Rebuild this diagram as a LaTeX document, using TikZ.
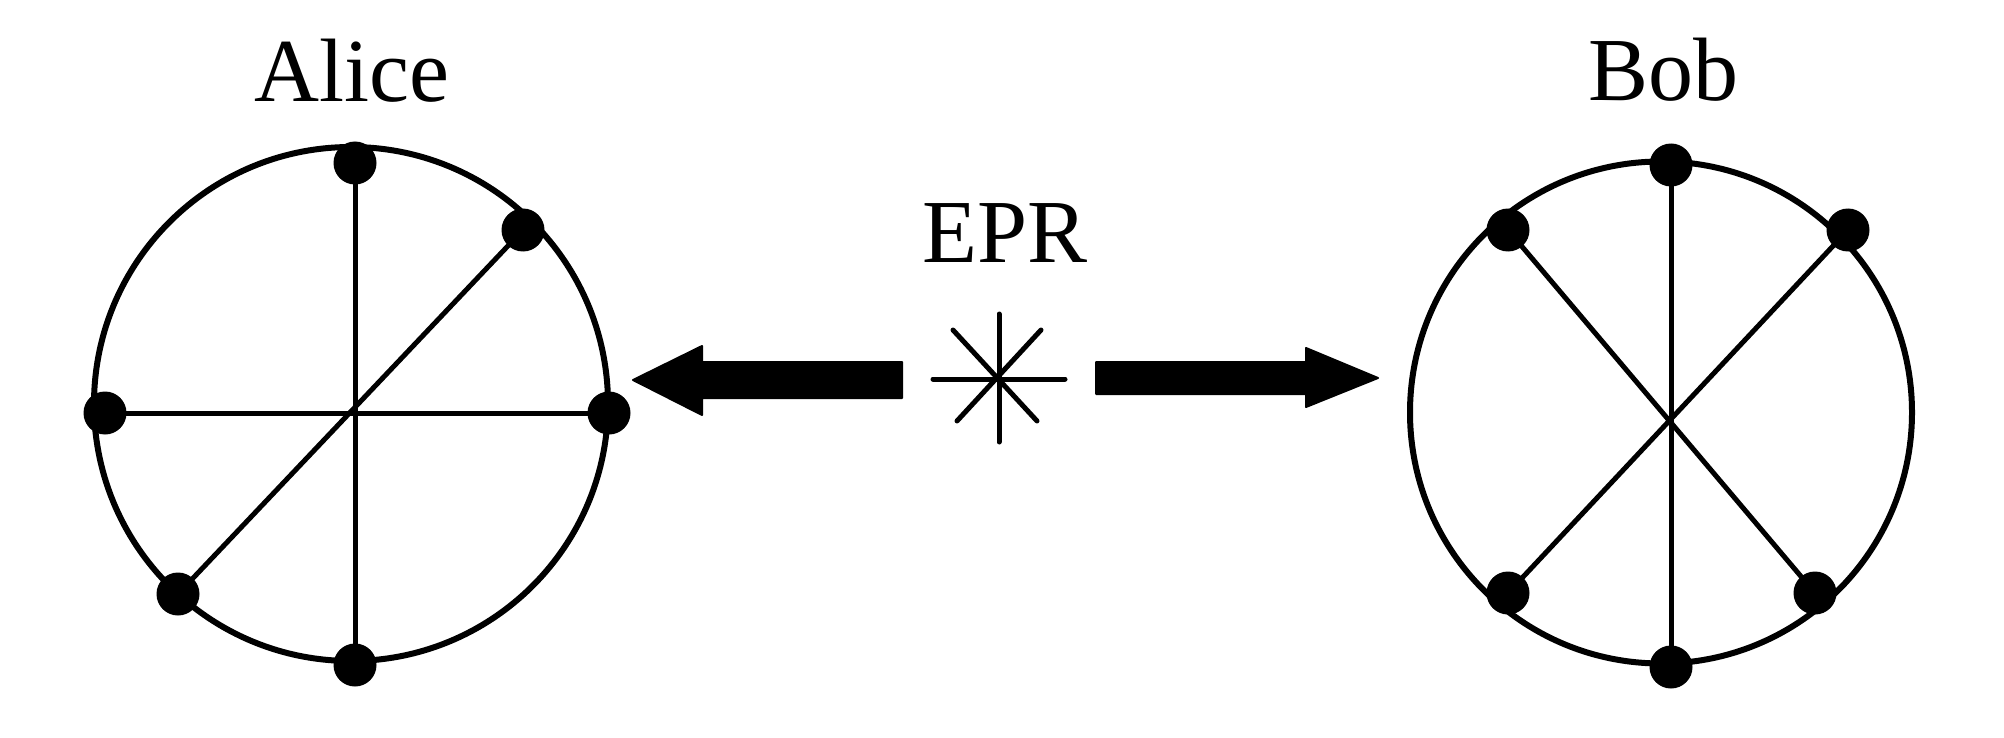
\documentclass[tikz,border=0pt]{standalone}
\usepackage{fontspec}
\setmainfont{Liberation Serif}
\begin{document}
\begin{tikzpicture}[x=0.5pt,y=-0.5pt,
  ring/.style={draw, circle, line width=3pt, inner sep=0pt},
  dot/.style={circle, fill=black, inner sep=0pt, minimum size=21.5pt},
  spoke/.style={line width=2.5pt},
  ray/.style={line width=2.5pt, line cap=round},
  blockarrow/.style={fill=black, draw=black, line width=1pt, line join=round},
  namelabel/.style={font=\fontsize{45}{54}\selectfont, inner sep=0pt, anchor=base}]
\path[use as bounding box] (0,0) rectangle (2004,738);

% titles
\node[namelabel] (alice) at (352,102) {Alice};
\node[namelabel] (bob) at (1663,101) {Bob};
\node[namelabel] (epr) at (1005,263) {EPR};

% Alice
\node[ring, minimum size=257pt] (aring) at (351,404) {};
\node[dot] (at) at (355,163) {};
\node[dot] (ab) at (355,665) {};
\node[dot] (al) at (105,413) {};
\node[dot] (ar) at (609,413) {};
\node[dot] (aur) at (523,230) {};
\node[dot] (all) at (178,594) {};
\draw[spoke] (at.center) -- (ab.center);
\draw[spoke] (al.center) -- (ar.center);
\draw[spoke] (aur.center) -- (all.center);

% Bob
\node[ring, minimum size=251pt] (bring) at (1661,412.5) {};
\node[dot] (bt) at (1671,165) {};
\node[dot] (bb) at (1671,667) {};
\node[dot] (bul) at (1508,230) {};
\node[dot] (bur) at (1848,230) {};
\node[dot] (bll) at (1508,593) {};
\node[dot] (blr) at (1815,593) {};
\draw[spoke] (bt.center) -- (bb.center);
\draw[spoke] (bur.center) -- (bll.center);
\draw[spoke] (bul.center) -- (blr.center);

% source star
\coordinate (star) at (999,379);
\draw[ray] (999,314) -- (999,442);
\draw[ray] (933,379) -- (1065,379);
\draw[ray] (953,330) -- (1037,421);
\draw[ray] (1041,330) -- (957,421);

% block arrows
\path[blockarrow] (633,380) -- (702,346) -- (702,362) -- (902,362) -- (902,398) -- (702,398) -- (702,415) -- cycle;
\path[blockarrow] (1096,362) -- (1306,362) -- (1306,348) -- (1378,378) -- (1306,407) -- (1306,394) -- (1096,394) -- cycle;
\end{tikzpicture}
\end{document}
